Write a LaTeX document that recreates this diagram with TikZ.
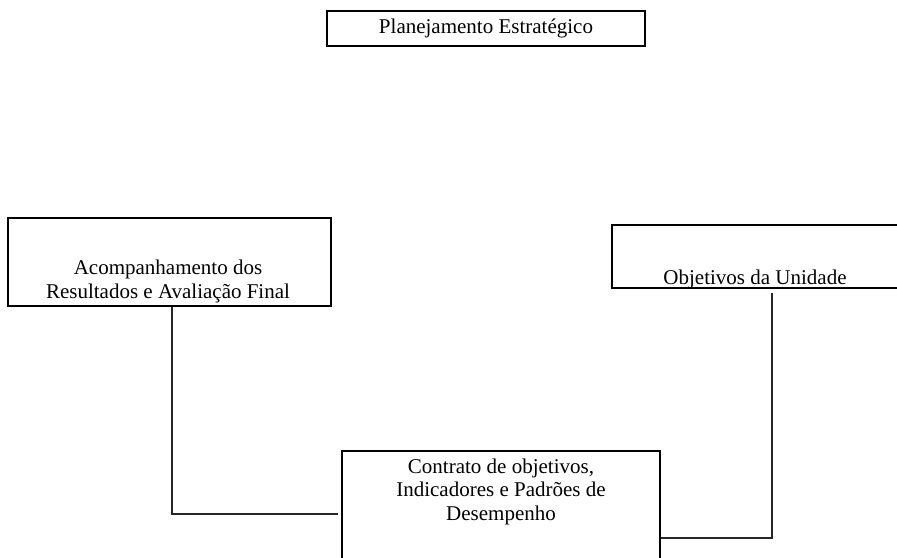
\documentclass[tikz,border=0pt]{standalone}
\usepackage{fontspec}
\setmainfont{Liberation Serif}
\begin{document}
\begin{tikzpicture}[x=1pt,y=-1pt,
  box/.style={draw=black,line width=2pt,rectangle,inner sep=0pt},
  txt/.style={font=\fontsize{21}{23.2}\selectfont,align=center,inner sep=0pt,anchor=base},
  conn/.style={draw=black!85,line width=1.3pt}]
\useasboundingbox (0,0) rectangle (897,557);
\clip (0,0) rectangle (897,557);
% boxes
\node[box,minimum width=318pt,minimum height=35pt] (tbox) at (486,28.5) {};
\node[box,minimum width=323pt,minimum height=88pt] (lbox) at (169.5,262) {};
\node[box,minimum width=290pt,minimum height=63pt] (rbox) at (757,256.5) {};
\node[box,minimum width=318pt,minimum height=160pt] (bbox) at (501,531) {};
% texts (base anchor = baseline of the last line)
\node[txt] (ttxt) at (486,33) {Planejamento Estratégico};
\node[txt] (ltxt) at (168,298) {Acompanhamento dos\\Resultados e Avaliação Final};
\node[txt] (rtxt) at (755,284) {Objetivos da Unidade};
\node[txt] (btxt) at (501,520) {Contrato de objetivos,\\Indicadores e Padrões de\\Desempenho};
% connectors
\coordinate (lend) at (338,514);
\draw[conn] ([xshift=2.5pt]lbox.south) |- (lend);
\coordinate (rtop) at (772,293);
\coordinate (rcorner) at (772,538);
\draw[conn] (rtop) -- (rcorner) -- (rcorner -| bbox.east);
\end{tikzpicture}
\end{document}
